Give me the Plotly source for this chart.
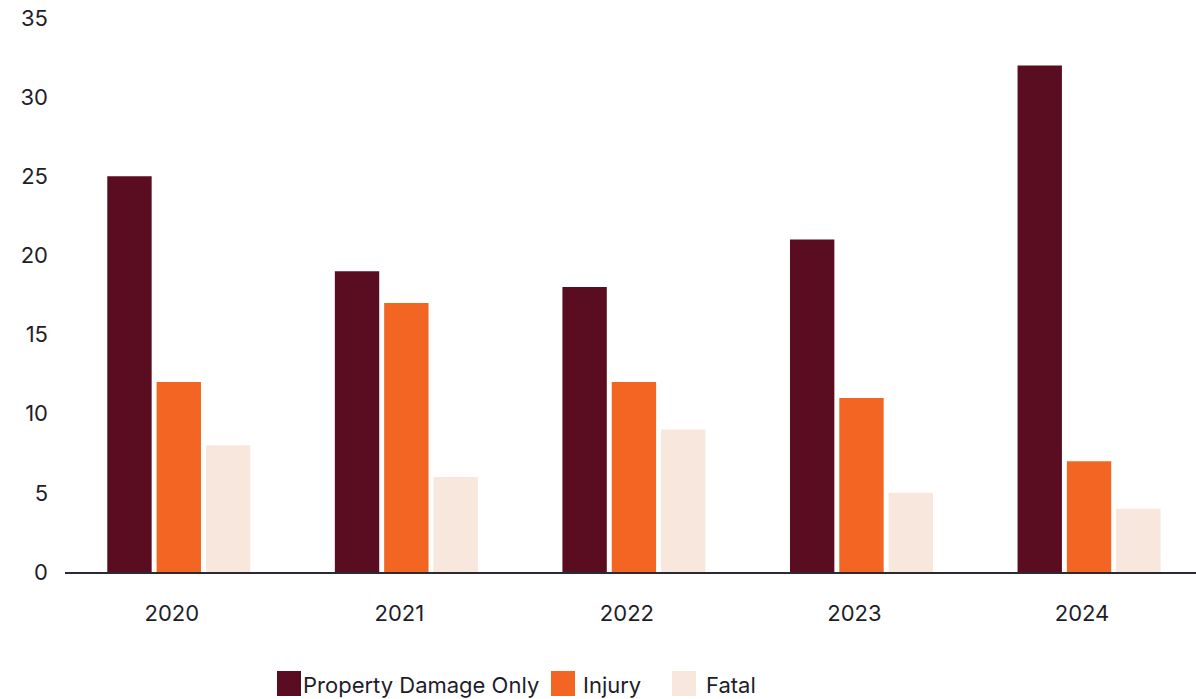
import plotly.graph_objects as go

# Crash counts by year and severity
years = ["2020", "2021", "2022", "2023", "2024"]
series_names = ["Property Damage Only", "Injury", "Fatal"]
property_damage_only = [25, 19, 18, 21, 32]
injury = [12, 17, 12, 11, 7]
fatal = [8, 6, 9, 5, 4]
y_ticks = [0, 5, 10, 15, 20, 25, 30, 35]

colors = ["#5A0C21", "#F26522", "#F8E7DC"]
text_color = "#1E1E2A"
font_family = "Inter, 'Open Sans', sans-serif"

W, H = 1196, 699
M_L, M_R, M_T, M_B = 65, 0, 18, 127
PLOT_W = W - M_L - M_R
PLOT_H = H - M_T - M_B


def px_x(p):
    """Pixel x -> paper x."""
    return (p - M_L) / PLOT_W


def px_y(p):
    """Pixel y (from top) -> paper y."""
    return (H - M_B - p) / PLOT_H


fig = go.Figure()
for name, vals, col in zip(series_names, [property_damage_only, injury, fatal], colors):
    fig.add_trace(go.Bar(
        name=name, x=years, y=vals, marker=dict(color=col, line=dict(width=0)),
        showlegend=False,
    ))

# Custom legend: large square swatches with labels below the plot
legend_items = [
    (series_names[0], colors[0], 277, 303),
    (series_names[1], colors[1], 551, 583),
    (series_names[2], colors[2], 672, 706),
]
shapes = []
annotations = []
for name, col, sx, tx in legend_items:
    shapes.append(dict(
        type="rect", xref="paper", yref="paper",
        x0=px_x(sx), x1=px_x(sx + 24), y0=px_y(696), y1=px_y(671),
        fillcolor=col, line=dict(width=0), layer="above",
    ))
    annotations.append(dict(
        text=name, xref="paper", yref="paper", x=px_x(tx - 2), y=px_y(685),
        xanchor="left", yanchor="middle", showarrow=False,
        font=dict(size=22, color=text_color, family=font_family),
    ))

fig.update_layout(
    width=W, height=H,
    margin=dict(l=M_L, r=M_R, t=M_T, b=M_B, pad=0),
    paper_bgcolor="white", plot_bgcolor="white",
    barmode="group", bargap=0.35, bargroupgap=0.1,
    font=dict(family=font_family, color=text_color, size=22),
    shapes=shapes, annotations=annotations,
    xaxis=dict(
        range=[-0.5, 4.47], showgrid=False, zeroline=False,
        showline=True, linecolor="#2A2A33", linewidth=1.5,
        ticks="", tickfont=dict(size=22), ticklabelstandoff=21,
        ticklabelshift=-7,
    ),
    yaxis=dict(
        range=[0, 35], tickvals=y_ticks, showgrid=False, zeroline=False,
        showline=False, ticks="", tickfont=dict(size=22),
        ticklabelstandoff=16,
    ),
)

fig.write_html("out.html")
